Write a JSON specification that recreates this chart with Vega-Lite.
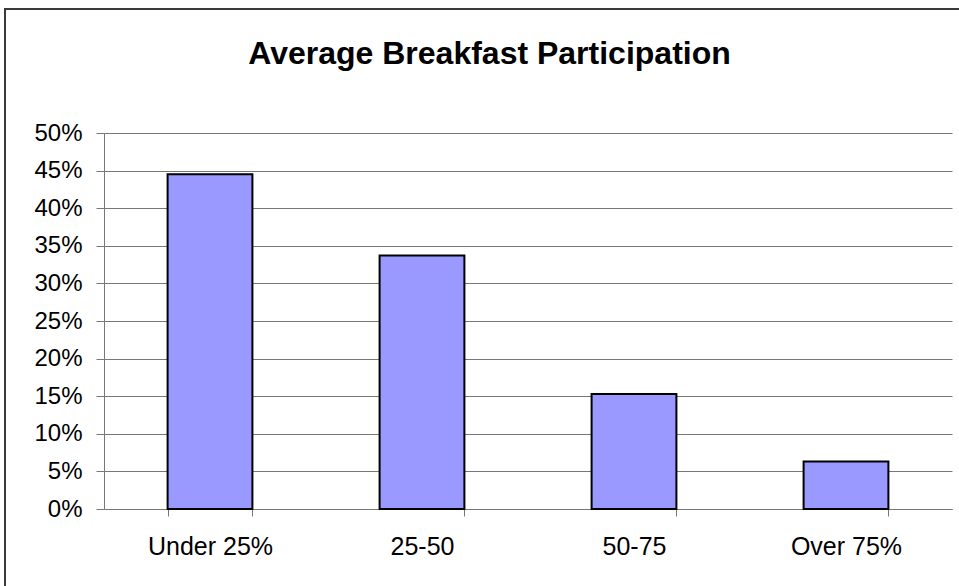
{
  "$schema": "https://vega.github.io/schema/vega-lite/v6.json",
  "autosize": {"type": "none"},
  "padding": {"left": 5, "top": 9, "right": 0, "bottom": 0},
  "width": 969,
  "height": 600,
  "background": "white",
  "title": {
    "text": "Average Breakfast Participation",
    "orient": "top",
    "anchor": "middle",
    "frame": "group",
    "offset": -87,
    "baseline": "alphabetic",
    "font": "Liberation Sans",
    "fontSize": 32,
    "fontWeight": "bold",
    "color": "black"
  },
  "data": {
    "values": [
      {"category": "Under 25%", "share": 0.445},
      {"category": "25-50", "share": 0.337},
      {"category": "50-75", "share": 0.153},
      {"category": "Over 75%", "share": 0.063}
    ]
  },
  "mark": {"type": "bar", "color": "#9999FF", "stroke": "black", "strokeWidth": 2},
  "encoding": {
    "x": {
      "field": "category",
      "type": "nominal",
      "sort": null,
      "scale": {"range": [99, 947], "paddingInner": 0.6, "paddingOuter": 0.3},
      "axis": {
        "title": null,
        "offset": -100,
        "labelAngle": 0,
        "labelFont": "Liberation Sans",
        "labelFontSize": 25,
        "labelColor": "black",
        "labelBaseline": "alphabetic",
        "labelPadding": 38,
        "tickBand": "extent",
        "tickSize": 7,
        "tickColor": "#777777",
        "domainColor": "#777777",
        "grid": false
      }
    },
    "y": {
      "field": "share",
      "type": "quantitative",
      "scale": {"domain": [0, 0.5], "range": [500, 124], "nice": false},
      "axis": {
        "title": null,
        "offset": -99,
        "values": [0, 0.05, 0.1, 0.15, 0.2, 0.25, 0.3, 0.35, 0.4, 0.45, 0.5],
        "format": ".0%",
        "labelFont": "Liberation Sans",
        "labelFontSize": 24,
        "labelColor": "black",
        "labelPadding": 14,
        "tickSize": 8,
        "tickColor": "#777777",
        "domainColor": "#777777",
        "grid": true,
        "gridColor": "#777777",
        "gridOpacity": 1
      }
    }
  },
  "config": {
    "view": {"stroke": "#3a3a3a", "strokeWidth": 2}
  }
}
